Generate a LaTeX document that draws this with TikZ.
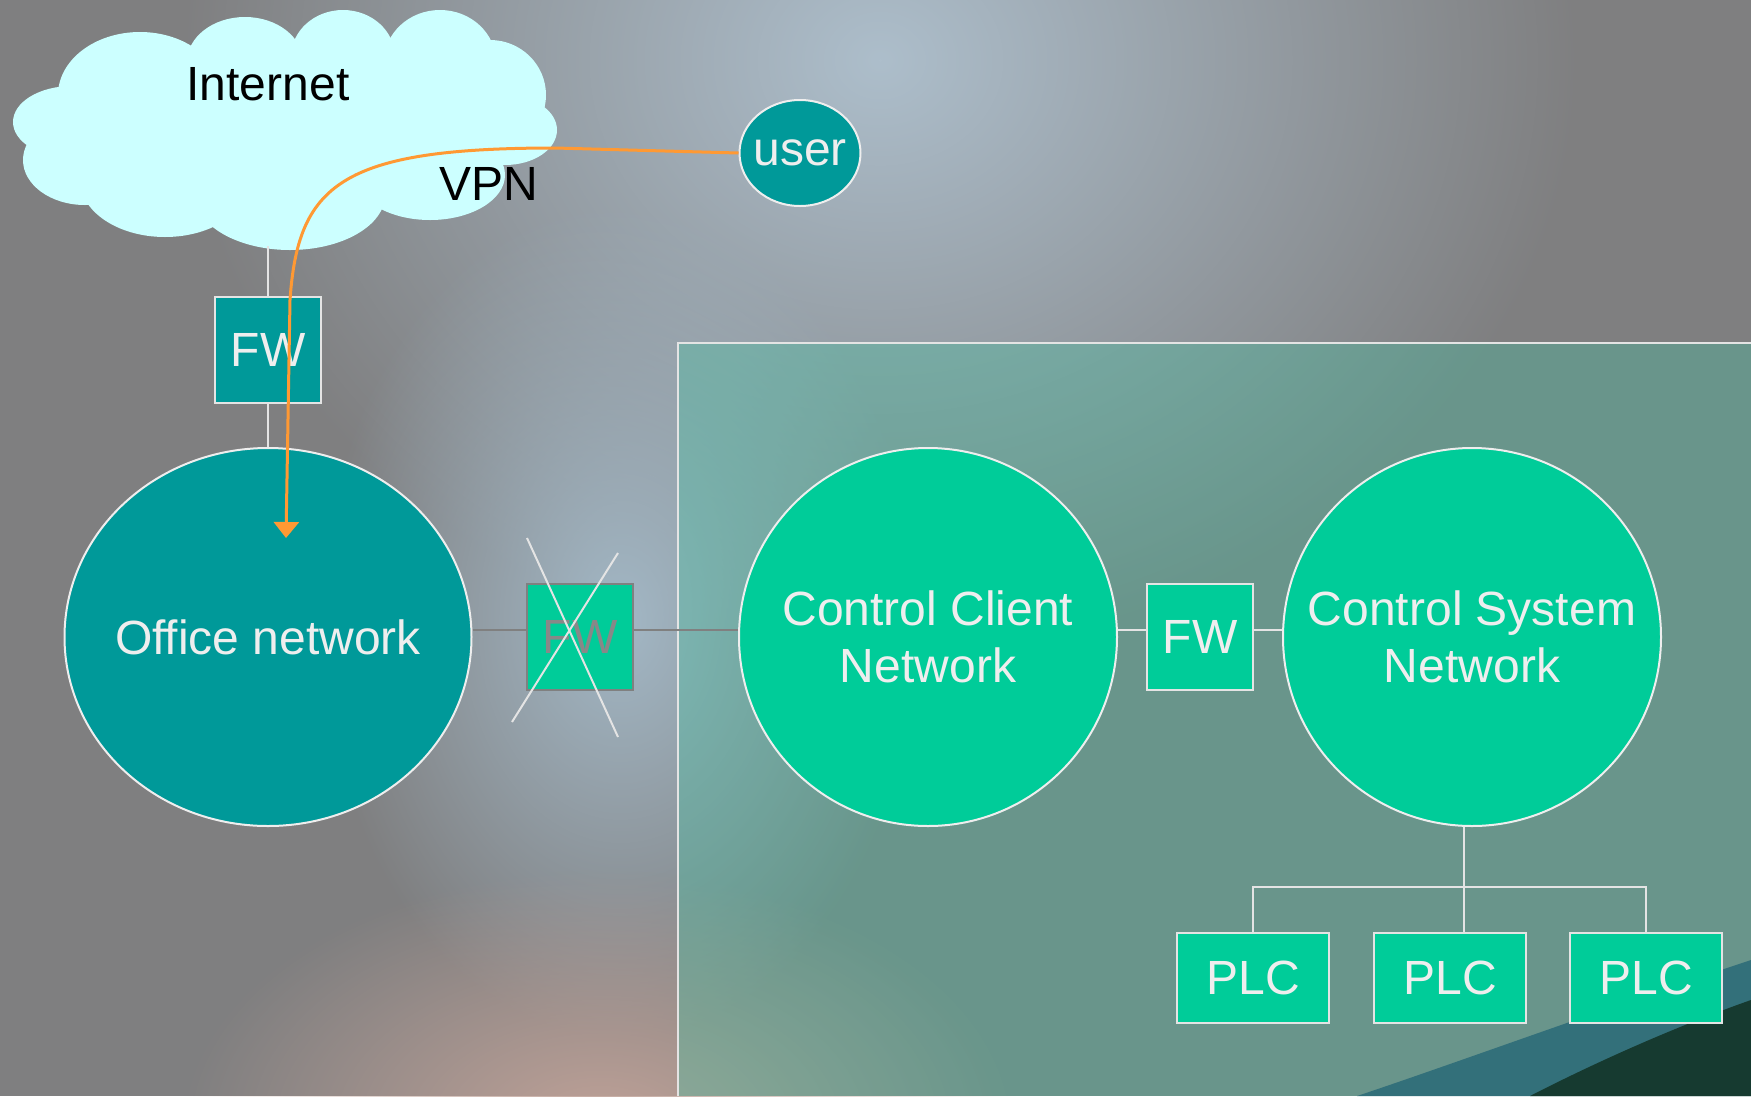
\documentclass[tikz,border=0pt]{standalone}
\usepackage{fontspec}
\setmainfont{Liberation Sans}
\usetikzlibrary{shapes.geometric,arrows.meta,fadings}
\definecolor{tealA}{HTML}{009999}
\definecolor{greenA}{HTML}{00CC99}
\definecolor{txtW}{HTML}{EEEEEE}
\definecolor{lineW}{HTML}{E4E4E4}
\definecolor{cloudC}{HTML}{CCFFFF}
\definecolor{vpnC}{HTML}{FF9933}
\definecolor{grayC}{HTML}{808080}
\definecolor{grayT}{HTML}{888888}
\definecolor{panelC}{HTML}{40C0A0}
\definecolor{swooshB}{HTML}{33707A}
\definecolor{swooshD}{HTML}{163A30}
\definecolor{bgBase}{HTML}{7F7F80}
\definecolor{glowA}{HTML}{ADBECB}
\definecolor{glowB}{HTML}{A3B8C6}
\definecolor{glowP}{HTML}{C0A298}
\tikzfading[name=glow, inner color=transparent!0, outer color=transparent!100]
\tikzset{
  netT/.style={draw=txtW, line width=2pt, fill=tealA, text=txtW, inner sep=0pt},
  netG/.style={draw=txtW, line width=2pt, fill=greenA, text=txtW, inner sep=0pt, circle, minimum size=378pt, align=center},
  fwT/.style={draw=lineW, line width=1.5pt, fill=tealA, text=txtW, inner sep=0pt, minimum size=106pt},
  fwG/.style={draw=lineW, line width=1.5pt, fill=greenA, text=txtW, inner sep=0pt, minimum size=106pt},
  fwX/.style={draw=grayC, line width=2pt, fill=greenA, text=grayT, inner sep=0pt, minimum size=106pt},
  plcbox/.style={draw=lineW, line width=2pt, fill=greenA, text=txtW, inner sep=0pt, minimum width=152pt, minimum height=90pt},
  wline/.style={draw=lineW, line width=2pt},
  gline/.style={draw=grayC, line width=2pt},
  crossline/.style={draw=lineW, line width=2pt},
  vpnline/.style={draw=vpnC, line width=3pt, -{Triangle[width=25pt,length=16pt]}},
}
\begin{document}
\begin{tikzpicture}[x=1pt,y=-1pt,font=\fontsize{48}{57}\selectfont]
\useasboundingbox (0,0) rectangle (1751,1096);
% background
\fill[bgBase] (0,0) rectangle (1751,1096);
\fill[glowA, path fading=glow] (880,60) ellipse [x radius=700pt, y radius=600pt];
\fill[glowB, path fading=glow] (620,620) ellipse [x radius=300pt, y radius=420pt];
\fill[glowP, path fading=glow] (600,1130) ellipse [x radius=420pt, y radius=260pt];
% panel
\fill[panelC, opacity=0.35] (678,343) rectangle (1751,1096);
\fill[swooshB] (1357,1096) .. controls (1450,1065) and (1600,1010) .. (1751,960) -- (1751,1096) -- cycle;
\fill[swooshD] (1530,1096) .. controls (1600,1060) and (1680,1025) .. (1751,1000) -- (1751,1096) -- cycle;
\draw[wline] (678,1096) -- (678,343) -- (1751,343);
% cloud
\foreach \cx/\cy/\rx/\ry in {
  72/122/59/36, 140/95/82/63, 245/62/58/45, 343/57/52/47, 440/62/56/52,
  490/95/56/55, 505/130/52/35, 430/175/75/45, 290/195/95/55, 165/180/85/57,
  85/160/62/45, 290/130/220/80}{
  \fill[cloudC] (\cx,\cy) ellipse [x radius=\rx pt, y radius=\ry pt];
}
\node[text=black, inner sep=0pt] (inet) at (268,84) {Internet};
\node[text=black, inner sep=0pt] (vpn) at (489,184) {VPN};
\coordinate (cloudbot) at (268,246);
% nodes
\node[netT, ellipse, minimum width=121pt, minimum height=106pt] (user) at (800,153) {\makebox[0pt][c]{user}};
\node[fwT] (fw1) at (268,350) {FW};
\node[netT, ellipse, minimum width=407pt, minimum height=378pt] (office) at (268,637) {\makebox[0pt][c]{Office network}};
\node[fwX] (fwx) at (580,637) {FW};
\node[netG] (cc) at (928,637) {Control Client\\Network};
\node[fwG] (fw2) at (1200,637) {FW};
\node[netG] (cs) at (1472,637) {Control System\\Network};
\node[plcbox] (plc1) at (1253,978) {PLC};
\node[plcbox] (plc2) at (1450,978) {PLC};
\node[plcbox] (plc3) at (1646,978) {PLC};
% connectors
\draw[wline] (cloudbot) -- (fw1.north);
\draw[wline] (fw1.south) -- (office.north);
\draw[gline] ([yshift=7pt]office.east) -- ([yshift=7pt]fwx.west);
\draw[gline] ([yshift=7pt]fwx.east) -- ([yshift=7pt]cc.west);
\draw[wline] ([yshift=7pt]cc.east) -- ([yshift=7pt]fw2.west);
\draw[wline] ([yshift=7pt]fw2.east) -- ([yshift=7pt]cs.west);
\coordinate (tj) at (1464,887);
\draw[wline] (tj |- cs.south) -- (tj |- plc2.north);
\draw[wline] (plc1.north) |- (tj) -| (plc3.north);
% cross over the disabled firewall
\coordinate (xa1) at (527,538);
\coordinate (xa2) at (618,737);
\coordinate (xb1) at (618,553);
\coordinate (xb2) at (512,722);
\draw[crossline] (xa1) -- (xa2);
\draw[crossline] (xb1) -- (xb2);
% VPN path
\coordinate (vpnend) at (286,538);
\draw[vpnline] (user.west) -- (555,148) .. controls (340,148) and (298,185) .. (290,300) -- (vpnend);
\end{tikzpicture}
\end{document}
